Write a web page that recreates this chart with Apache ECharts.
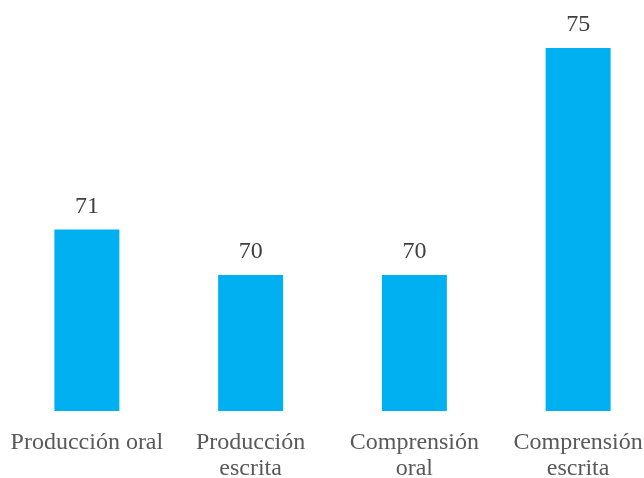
<!DOCTYPE html>
<html>
<head>
<meta charset="utf-8">
<script src="https://cdn.jsdelivr.net/npm/echarts@6/dist/echarts.min.js"></script>
<style>
    html, body { margin: 0; padding: 0; background: #fff; }
    #main { width: 644px; height: 478px; }
</style>
</head>
<body>
<div id="main"></div>
<script>
var categories = ['Producción oral', 'Producción\nescrita', 'Comprensión\noral', 'Comprensión\nescrita'];
var values = [71, 70, 70, 75];

var serif = 'Liberation Serif';

var myChart = echarts.init(document.getElementById('main'));
var option = {
    animation: false,
    grid: {
        left: 5,
        top: 48,
        width: 655,
        height: 363,
        containLabel: false,
        outerBoundsMode: 'none'
    },
    xAxis: {
        type: 'category',
        data: categories,
        axisLine: {show: false},
        axisTick: {show: false},
        axisLabel: {
            interval: 0,
            margin: 19,
            color: '#595959',
            fontFamily: serif,
            fontSize: 24,
            lineHeight: 26
        }
    },
    yAxis: {
        type: 'value',
        min: 67,
        max: 75,
        show: false,
        splitLine: {show: false}
    },
    series: [
        {
            type: 'bar',
            data: values,
            barWidth: 65,
            itemStyle: {color: '#00B0F0'},
            label: {
                show: true,
                position: 'top',
                distance: 11,
                color: '#404040',
                fontFamily: serif,
                fontSize: 24
            }
        }
    ]
};
myChart.setOption(option);
</script>
</body>
</html>
